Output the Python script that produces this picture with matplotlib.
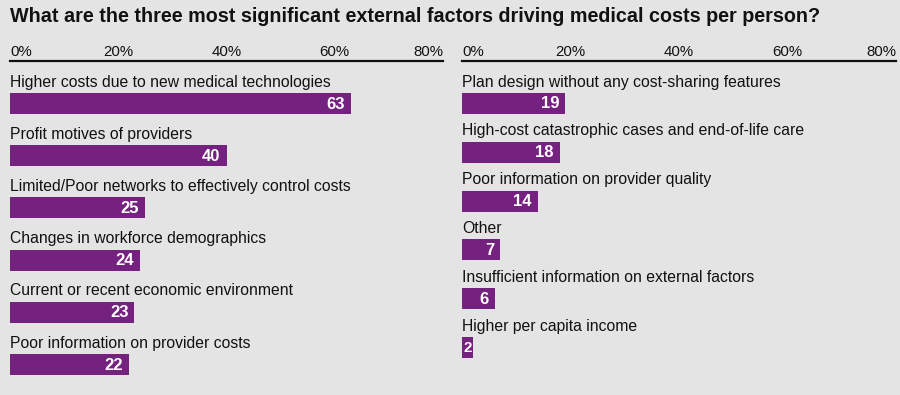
import matplotlib
matplotlib.use("Agg")
import matplotlib.pyplot as plt

# survey results, % of respondents
left_labels = ["Higher costs due to new medical technologies",
               "Profit motives of providers",
               "Limited/Poor networks to effectively control costs",
               "Changes in workforce demographics",
               "Current or recent economic environment",
               "Poor information on provider costs"]
left_values = [63, 40, 25, 24, 23, 22]

right_labels = ["Plan design without any cost-sharing features",
                "High-cost catastrophic cases and end-of-life care",
                "Poor information on provider quality",
                "Other",
                "Insufficient information on external factors",
                "Higher per capita income"]
right_values = [19, 18, 14, 7, 6, 2]

ticks = [0, 20, 40, 60, 80]
tick_labels = ["0%", "20%", "40%", "60%", "80%"]

title = "What are the three most significant external factors driving medical costs per person?"

BG = "#e4e4e4"
PURPLE = "#75217f"
FONT = "Liberation Sans"

W, H = 900, 395
fig = plt.figure(figsize=(W / 100, H / 100), dpi=100)
fig.patch.set_facecolor(BG)

fig.text(10 / W, 1 - 16 / H, title, fontsize=14.2, fontweight="bold",
         family=FONT, va="center", ha="left", color="#111111")


def panel(x0, x1, row_px, labels, values):
    # axes spans from the axis line (y=61px) down to the bottom of the figure
    top_px = 61
    ax = fig.add_axes([x0 / W, 0, (x1 - x0) / W, 1 - top_px / H])
    ax.set_facecolor(BG)
    first_center = 103.5
    ytop = (top_px - first_center) / row_px
    ybot = (H - first_center) / row_px
    ax.set_xlim(0, 80)
    ax.set_ylim(ybot, ytop)
    bh = 21 / row_px
    ys = list(range(len(values)))
    ax.barh(ys, values, height=bh, color=PURPLE, edgecolor="none")
    for y, lab, v in zip(ys, labels, values):
        ax.text(0, y - 21.5 / row_px, lab, fontsize=11.3, family=FONT,
                va="center", ha="left", color="#111111")
        pad = 1.1 if v >= 5 else 0.15
        ax.text(v - pad, y + 0.01, str(v), fontsize=12 if v >= 5 else 11,
                family=FONT, fontweight="bold", va="center", ha="right",
                color="white")
    for t, tl in zip(ticks, tick_labels):
        ha = "center"
        if t == ticks[0]:
            ha = "left"
        elif t == ticks[-1]:
            ha = "right"
        ax.text(t, ytop - 9.5 / row_px, tl, fontsize=10.8, family=FONT,
                va="center", ha=ha, color="#111111")
    ax.axhline(ytop, color="#111111", lw=1.6, clip_on=False)
    for s in ax.spines.values():
        s.set_visible(False)
    ax.set_xticks([])
    ax.set_yticks([])
    return ax


panel(10, 443, 52.2, left_labels, left_values)
panel(462, 896, 48.8, right_labels, right_values)

fig.savefig("out.png", dpi=100, facecolor=BG)
